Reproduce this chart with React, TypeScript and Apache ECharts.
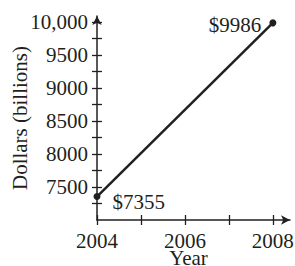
import React, { useEffect, useRef } from "react";
import * as echarts from "echarts";

const years = [2004, 2008];
const dollars = [7355, 9986];
const valueLabels = ["$7355", "$9986"];
const xTickValues = [2004, 2005, 2006, 2007, 2008];
const xLabelValues = [2004, 2006, 2008];
const yTickValues = [7250, 7500, 7750, 8000, 8250, 8500, 8750, 9000, 9250, 9500, 9750, 10000];
const yLabelValues = [7500, 8000, 8500, 9000, 9500, 10000];

const FONT = '"Liberation Serif", "Times New Roman", serif';
const INK = "#231f20";

export default function App() {
  const ref = useRef<HTMLDivElement>(null);
  useEffect(() => {
    if (!ref.current) return;
    const chart = echarts.init(ref.current, null, { renderer: "svg" });
    const textStyle = { fontFamily: FONT, fontSize: 21, color: INK };
    const xBase = { type: "value", min: 2004, max: 2008.39, gridIndex: 0 };
    const yBase = { type: "value", min: 7000, max: 10090, gridIndex: 0 };
    chart.setOption({
      animation: false,
      backgroundColor: "#ffffff",
      grid: { left: 97, right: 5, top: 16, bottom: 46, containLabel: false, outerBoundsMode: "none" },
      xAxis: [
        {
          ...xBase,
          position: "bottom",
          name: "Year",
          nameLocation: "middle",
          nameGap: 30,
          nameMoveOverlap: false,
          nameTextStyle: { ...textStyle, lineHeight: 16, padding: [0, 10, 0, 0] },
          axisLine: { show: true, symbol: ["none", "arrow"], symbolSize: [7, 9], lineStyle: { color: INK, width: 1.5 } },
          axisTick: { show: true, inside: false, length: 5, customValues: xTickValues, lineStyle: { color: INK, width: 1.3 } },
          axisLabel: {
            show: true,
            margin: 13,
            customValues: xLabelValues,
            formatter: (v: number) => String(v),
            ...textStyle,
            lineHeight: 16,
          },
          splitLine: { show: false },
        },
        {
          ...xBase,
          position: "bottom",
          axisLine: { show: false },
          axisTick: { show: true, inside: true, length: 5, customValues: xTickValues, lineStyle: { color: INK, width: 1.3 } },
          axisLabel: { show: false },
          splitLine: { show: false },
        },
      ],
      yAxis: [
        {
          ...yBase,
          position: "left",
          name: "Dollars (billions)",
          nameLocation: "middle",
          nameGap: 67,
          nameMoveOverlap: false,
          nameTextStyle: textStyle,
          axisLine: { show: true, symbol: ["none", "arrow"], symbolSize: [7, 9], lineStyle: { color: INK, width: 1.5 } },
          axisTick: { show: true, inside: false, length: 5, customValues: yTickValues, lineStyle: { color: INK, width: 1.3 } },
          axisLabel: {
            show: true,
            margin: 9,
            customValues: yLabelValues,
            formatter: (v: number) => (v === 10000 ? "10,000" : String(v)),
            ...textStyle,
          },
          splitLine: { show: false },
        },
        {
          ...yBase,
          position: "left",
          axisLine: { show: false },
          axisTick: { show: true, inside: true, length: 5, customValues: yTickValues, lineStyle: { color: INK, width: 1.3 } },
          axisLabel: { show: false },
          splitLine: { show: false },
        },
      ],
      series: [
        {
          type: "line",
          xAxisIndex: 0,
          yAxisIndex: 0,
          symbol: "circle",
          symbolSize: 7,
          itemStyle: { color: INK },
          lineStyle: { color: INK, width: 2.5 },
          data: years.map((y, i) => ({
            value: [y, dollars[i]],
            label:
              i === 0
                ? { show: true, position: "right", distance: 12, offset: [0, 5] }
                : { show: true, position: "left", distance: 8, offset: [0, 2] },
          })),
          label: {
            show: true,
            formatter: (p: any) => valueLabels[p.dataIndex],
            ...textStyle,
          },
        },
      ],
    });
    return () => chart.dispose();
  }, []);
  return <div ref={ref} style={{ position: "fixed", left: 0, top: 0, width: 295, height: 266 }} />;
}
